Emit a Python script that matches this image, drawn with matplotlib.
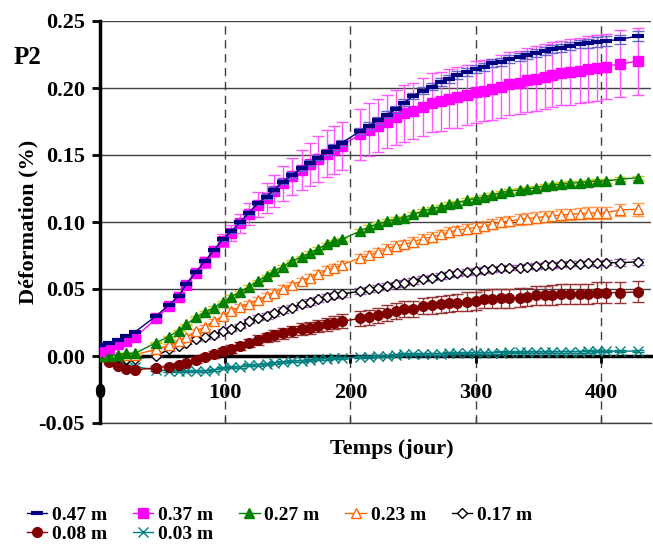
import numpy as np
import matplotlib
matplotlib.use("Agg")
import matplotlib.pyplot as plt

plt.rcParams['font.family'] = ['Liberation Serif', 'DejaVu Serif']
plt.rcParams['font.weight'] = 'bold'

# ----- données -----
jours = [0, 7, 14, 21, 28, 45, 55, 63, 69, 77, 84, 91, 98, 105, 112, 119, 126, 133, 139, 146,
         153, 161, 168, 174, 181, 187, 193, 208, 215, 222, 229, 236, 243, 250, 258, 265, 272,
         279, 285, 293, 300, 307, 313, 320, 327, 335, 341, 348, 355, 361, 368, 375, 383, 390,
         397, 404, 415, 430]

d_047 = [0.0085, 0.0095, 0.012, 0.015, 0.018, 0.030, 0.038, 0.045, 0.054, 0.063, 0.071, 0.079,
         0.087, 0.093, 0.100, 0.107, 0.114, 0.119, 0.124, 0.130, 0.135, 0.140, 0.144, 0.148,
         0.152, 0.156, 0.159, 0.168, 0.172, 0.176, 0.180, 0.184, 0.189, 0.194, 0.198, 0.201,
         0.2045, 0.207, 0.2097, 0.212, 0.214, 0.216, 0.2184, 0.2197, 0.2214, 0.223, 0.2246,
         0.2264, 0.2276, 0.2294, 0.230, 0.2313, 0.2326, 0.2334, 0.2343, 0.2351, 0.2363, 0.2388]
e_047 = [0, 0, 0, 0, 0, 0.0005, 0.0005, 0.0005, 0.001, 0.001, 0.001, 0.001, 0.001, 0.0015,
         0.0015, 0.0015, 0.0015, 0.002, 0.002, 0.002, 0.002, 0.002, 0.002, 0.002, 0.002,
         0.002, 0.002, 0.0025, 0.0025, 0.0025, 0.0025, 0.0025, 0.0025, 0.0025, 0.0025, 0.0025,
         0.003, 0.003, 0.003, 0.003, 0.003, 0.003, 0.003, 0.003, 0.003, 0.003, 0.003, 0.003,
         0.003, 0.003, 0.003, 0.003, 0.003, 0.0035, 0.0035, 0.0035, 0.0035, 0.0035]

d_037 = [0.004, 0.006, 0.009, 0.011, 0.014, 0.028, 0.037, 0.044, 0.053, 0.062, 0.070, 0.078,
         0.086, 0.092, 0.099, 0.106, 0.113, 0.118, 0.123, 0.129, 0.134, 0.139, 0.143, 0.147,
         0.151, 0.154, 0.157, 0.1655, 0.169, 0.172, 0.175, 0.178, 0.181, 0.183, 0.186, 0.189,
         0.190, 0.192, 0.193, 0.195, 0.197, 0.198, 0.199, 0.201, 0.203, 0.204, 0.206, 0.207,
         0.2085, 0.210, 0.211, 0.212, 0.213, 0.214, 0.215, 0.216, 0.218, 0.220]
e_037 = [0, 0, 0, 0, 0, 0.001, 0.0015, 0.002, 0.0025, 0.003, 0.004, 0.004, 0.005, 0.006, 0.007,
         0.0085, 0.0095, 0.011, 0.012, 0.013, 0.014, 0.015, 0.016, 0.017, 0.0175, 0.018, 0.018,
         0.019, 0.0195, 0.020, 0.020, 0.0205, 0.021, 0.021, 0.0215, 0.022, 0.022, 0.022, 0.0225,
         0.0225, 0.023, 0.023, 0.023, 0.0235, 0.0235, 0.0235, 0.024, 0.024, 0.024, 0.024, 0.024,
         0.0245, 0.0245, 0.0245, 0.0245, 0.0245, 0.025, 0.025]

d_027 = [0.0, 0.0, 0.001, 0.002, 0.002, 0.010, 0.0145, 0.019, 0.0237, 0.0290, 0.0328, 0.0361,
         0.0403, 0.0443, 0.0478, 0.0518, 0.0560, 0.0597, 0.0634, 0.0667, 0.0709, 0.0739,
         0.0772, 0.0801, 0.0834, 0.0858, 0.0871, 0.0933, 0.0966, 0.0985, 0.1005, 0.1020,
         0.1033, 0.1057, 0.1082, 0.1100, 0.1112, 0.1132, 0.1145, 0.1162, 0.1175, 0.1187,
         0.1201, 0.1219, 0.1231, 0.1239, 0.1244, 0.1257, 0.1269, 0.1274, 0.1281, 0.1289,
         0.1294, 0.1299, 0.1306, 0.1306, 0.1319, 0.1331]
e_027 = [0, 0, 0, 0, 0, 0.0005, 0.0005, 0.0005, 0.0005, 0.0005, 0.0005, 0.001, 0.001, 0.001,
         0.001, 0.001, 0.001, 0.001, 0.001, 0.001, 0.001, 0.001, 0.001, 0.001, 0.001, 0.001,
         0.001, 0.0015, 0.0015, 0.0015, 0.0015, 0.0015, 0.0015, 0.0015, 0.0015, 0.0015, 0.0015,
         0.0015, 0.0015, 0.0015, 0.0015, 0.0015, 0.0015, 0.0015, 0.0015, 0.0015, 0.0015, 0.0015,
         0.0015, 0.0015, 0.0015, 0.0015, 0.0015, 0.0015, 0.0015, 0.0015, 0.0015, 0.0015]

d_023 = [0.0, 0.0, 0.0005, 0.001, 0.001, 0.005, 0.008, 0.011, 0.0145, 0.0185, 0.022, 0.026,
         0.0299, 0.0336, 0.0369, 0.0391, 0.0418, 0.0448, 0.0473, 0.0503, 0.0528, 0.0560,
         0.0585, 0.0615, 0.0640, 0.0660, 0.0679, 0.0734, 0.0751, 0.0775, 0.0800, 0.0820,
         0.0834, 0.0851, 0.0876, 0.0888, 0.0908, 0.0926, 0.0938, 0.0951, 0.0958, 0.0970,
         0.0983, 0.1000, 0.1007, 0.1020, 0.1025, 0.1033, 0.1040, 0.1045, 0.1052, 0.1057,
         0.1063, 0.1065, 0.1070, 0.1070, 0.1090, 0.1095]
e_023 = [0, 0, 0, 0, 0, 0.001, 0.001, 0.001, 0.0015, 0.0015, 0.0015, 0.0015, 0.002, 0.002,
         0.002, 0.002, 0.002, 0.0025, 0.0025, 0.0025, 0.0025, 0.0025, 0.003, 0.003, 0.003,
         0.003, 0.003, 0.003, 0.003, 0.003, 0.0035, 0.0035, 0.0035, 0.0035, 0.0035, 0.0035,
         0.0035, 0.0035, 0.0035, 0.0037, 0.0037, 0.0037, 0.0037, 0.004, 0.004, 0.004, 0.004,
         0.004, 0.004, 0.004, 0.0042, 0.0042, 0.0042, 0.0045, 0.0045, 0.0045, 0.0048, 0.005]

d_017 = [0.0, -0.001, -0.001, -0.002, -0.002, 0.0, 0.005, 0.0075, 0.010, 0.0125, 0.0145,
         0.016, 0.0187, 0.0204, 0.0225, 0.026, 0.0287, 0.0299, 0.0319, 0.0343, 0.0361, 0.0386,
         0.0403, 0.0423, 0.0443, 0.0453, 0.0460, 0.0485, 0.0498, 0.0510, 0.0523, 0.0535,
         0.0548, 0.0560, 0.0578, 0.0585, 0.0597, 0.0610, 0.0617, 0.0627, 0.0634, 0.0642,
         0.0647, 0.0654, 0.0660, 0.0660, 0.0667, 0.0672, 0.0677, 0.0680, 0.0684, 0.0690,
         0.0690, 0.0692, 0.0692, 0.0697, 0.0697, 0.0702]
e_017 = [0, 0, 0, 0, 0, 0.001, 0.001, 0.001, 0.001, 0.0015, 0.0015, 0.0015, 0.0015, 0.0015,
         0.0015, 0.0015, 0.002, 0.002, 0.002, 0.002, 0.002, 0.002, 0.002, 0.002, 0.002, 0.002,
         0.002, 0.002, 0.002, 0.002, 0.002, 0.002, 0.002, 0.002, 0.002, 0.002, 0.002, 0.002,
         0.002, 0.002, 0.002, 0.002, 0.002, 0.002, 0.002, 0.002, 0.002, 0.002, 0.002, 0.002,
         0.002, 0.002, 0.002, 0.002, 0.002, 0.002, 0.0025, 0.0025]

d_008 = [0.0, -0.0047, -0.0075, -0.0094, -0.0104, -0.0087, -0.0079, -0.0070, -0.0050,
         -0.0030, -0.0005, 0.0012, 0.0037, 0.0055, 0.0075, 0.0095, 0.012, 0.014, 0.0155,
         0.017, 0.0185, 0.020, 0.021, 0.0225, 0.0237, 0.025, 0.026, 0.028, 0.029, 0.0305,
         0.032, 0.0335, 0.0348, 0.0354, 0.0373, 0.0378, 0.0386, 0.0393, 0.0398, 0.0406,
         0.0410, 0.0423, 0.0428, 0.0430, 0.0430, 0.0436, 0.0440, 0.0453, 0.0453, 0.0455,
         0.0460, 0.0460, 0.0466, 0.0466, 0.0473, 0.0473, 0.0473, 0.0478]
e_008 = [0, 0, 0, 0, 0, 0.001, 0.001, 0.0015, 0.0015, 0.002, 0.002, 0.0025, 0.0025, 0.003,
         0.003, 0.003, 0.0035, 0.0035, 0.004, 0.004, 0.004, 0.0045, 0.0045, 0.0045, 0.005,
         0.005, 0.005, 0.0055, 0.0055, 0.0055, 0.006, 0.006, 0.006, 0.006, 0.006, 0.0062,
         0.0062, 0.0065, 0.0065, 0.0068, 0.0068, 0.0068, 0.007, 0.007, 0.007, 0.007, 0.007,
         0.0072, 0.0072, 0.0072, 0.0074, 0.0074, 0.0075, 0.0075, 0.0076, 0.0076, 0.0077,
         0.0078]

d_003 = [0.0, -0.003, -0.005, -0.007, -0.008, -0.0104, -0.011, -0.0115, -0.0115, -0.0113,
         -0.011, -0.0105, -0.009, -0.0085, -0.008, -0.007, -0.0065, -0.006, -0.005, -0.0045,
         -0.004, -0.0035, -0.003, -0.0025, -0.002, -0.0017, -0.0015, -0.001, -0.0005, 0.0,
         0.0003, 0.0008, 0.0012, 0.0013, 0.0015, 0.0017, 0.0018, 0.0020, 0.0020, 0.0022,
         0.0023, 0.0024, 0.0025, 0.0026, 0.0027, 0.0028, 0.0029, 0.0030, 0.0030, 0.0031,
         0.0032, 0.0033, 0.0033, 0.0034, 0.0035, 0.0035, 0.0036, 0.0037]
e_003 = [0.0] * 5 + [0.0008] * 53

labels = ["0.47 m", "0.37 m", "0.27 m", "0.23 m", "0.17 m", "0.08 m", "0.03 m"]

# ----- figure -----
fig = plt.figure(figsize=(6.53, 5.47), dpi=100)
ax = fig.add_axes([100 / 653, 124 / 547, 551 / 653, 402 / 547])

# series: (valeurs, erreurs, couleur, couleur erreur, marker, face, taille, mew)
series = [
    (d_047, e_047, "#000080", "#6666CC", "_", "#000080", 9, 3.0),
    (d_037, e_037, "#FF00FF", "#FF55FF", "s", "#FF00FF", 6.5, 1.0),
    (d_027, e_027, "#008000", "#CCCC00", "^", "#008000", 7, 1.0),
    (d_023, e_023, "#FF6600", "#FF9955", "^", "white", 7, 1.0),
    (d_017, e_017, "#000000", "#AA55CC", "D", "white", 5, 1.0),
    (d_008, e_008, "#800000", "#993333", "o", "#800000", 7, 1.0),
    (d_003, e_003, "#008080", "#008080", "x", "#008080", 7, 1.0),
]
zorders = [10, 9, 8, 7, 6, 5, 4]

handles = []
for (vals, errs, col, ecol, mk, face, ms, mew), lab, z in zip(series, labels, zorders):
    ax.errorbar(jours, vals, yerr=errs, fmt="none", ecolor=ecol, elinewidth=1.0,
                capsize=4, capthick=1.0, zorder=z)
    h, = ax.plot(jours, vals, color=col, lw=1.0, marker=mk, markersize=ms,
                 markerfacecolor=face, markeredgecolor=col, markeredgewidth=mew,
                 label=lab, zorder=z + 0.5)
    handles.append(h)

ax.set_xlim(0, 440)
ax.set_ylim(-0.05, 0.25)
ax.set_xticks([0, 100, 200, 300, 400])
ax.set_yticks([-0.05, 0.0, 0.05, 0.10, 0.15, 0.20, 0.25])
ax.set_yticklabels(["-0.05", "0.00", "0.05", "0.10", "0.15", "0.20", "0.25"])

# grilles
ax.yaxis.grid(True, color="#404040", lw=1.0, linestyle="-")
ax.xaxis.grid(True, color="#404040", lw=1.0, linestyle=(0, (6, 4)))
ax.set_axisbelow(True)

# axes
for s in ["top", "right"]:
    ax.spines[s].set_visible(False)
ax.spines["left"].set_linewidth(2.5)
ax.spines["bottom"].set_position(("data", 0))
ax.spines["bottom"].set_linewidth(2.5)
ax.spines["bottom"].set_zorder(3)
ax.tick_params(axis="y", direction="out", length=6, width=2, pad=5, labelsize=16)
ax.tick_params(axis="x", direction="out", length=5, width=2, pad=14.5, labelsize=16)

# ligne du bas (-0.05) avec petites graduations
sec = ax.secondary_xaxis("bottom")
sec.set_xticks([0, 100, 200, 300, 400])
sec.tick_params(direction="in", length=4, width=1, color="#404040", labelbottom=False)
sec.spines["bottom"].set_color("#404040")
sec.spines["bottom"].set_linewidth(1.0)

ax.set_xlabel("Temps (jour)", fontsize=16, fontweight="bold")
ax.xaxis.set_label_coords(0.53, -0.04)
ax.set_ylabel("Déformation (%)", fontsize=16, fontweight="bold")
ax.yaxis.set_label_coords(-0.112, 0.5)

fig.text(14 / 653, 1 - 58 / 547, "P2", fontsize=18, fontweight="bold", va="center")

# ordre des handles pour remplir la légende par lignes
ordre = [0, 5, 1, 6, 2, 3, 4]
fig.legend(handles=[handles[i] for i in ordre], loc="upper left",
           bbox_to_anchor=(27 / 653, 1 - 506 / 547),
           ncol=5, frameon=False, fontsize=14, handlelength=1.05, handletextpad=0.25,
           columnspacing=1.32, labelspacing=0.08, borderpad=0, borderaxespad=0)

fig.savefig("out.png", dpi=100)
